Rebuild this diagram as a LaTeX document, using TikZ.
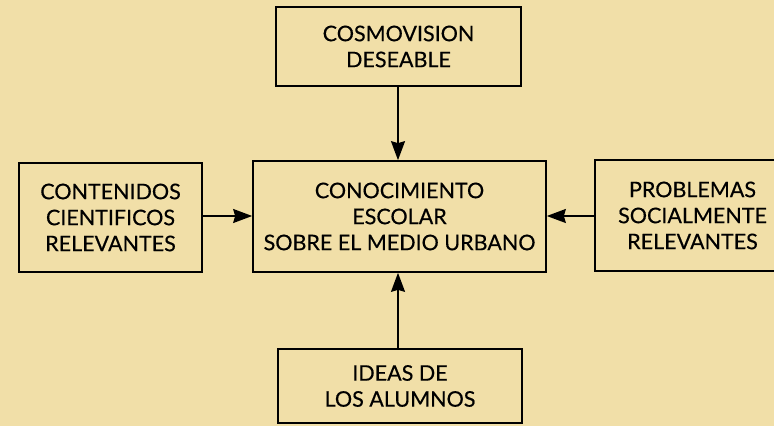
\documentclass[tikz,border=0pt]{standalone}
\usepackage{fontspec}
\setmainfont{Lato}[FakeBold=0.4]
\usetikzlibrary{arrows.meta}

\definecolor{papel}{RGB}{241,223,168}

\begin{document}
\begin{tikzpicture}[x=1pt,y=1pt,
    caja/.style={draw=black, line width=1.7pt, align=center, inner sep=0pt,
                 font=\fontsize{21.5}{26}\selectfont},
    flecha/.style={line width=1.6pt, -{Stealth[length=19pt,width=14pt,inset=2pt]}}]
\fill[papel] (0,0) rectangle (774,426);
\clip (0,0) rectangle (774,426);
% cajas
\node[caja, minimum width=245pt, minimum height=79pt] (cosmo) at (398.5,379.5) {COSMOVISION\\DESEABLE};
\node[caja, minimum width=293pt, minimum height=111pt] (conoc) at (399.5,209.5) {CONOCIMIENTO\\ESCOLAR\\SOBRE EL MEDIO URBANO};
\node[caja, minimum width=183pt, minimum height=109pt] (conten) at (110.5,208.5) {CONTENIDOS\\CIENTIFICOS\\RELEVANTES};
\node[caja, minimum width=195pt, minimum height=111pt, text width=175pt, align=center] (probl) at (692.5,210.5) {PROBLEMAS\\SOCIALMENTE\\RELEVANTES};
\node[caja, minimum width=244pt, minimum height=74pt] (ideas) at (400,40) {IDEAS DE\\LOS ALUMNOS};
% flechas
\draw[flecha] (cosmo.south -| 398,0) -- (conoc.north -| 398,0);
\draw[flecha] (ideas.north -| 398,0) -- (conoc.south -| 398,0);
\draw[flecha] (conten.east |- 0,210) -- (conoc.west |- 0,210);
\draw[flecha] (probl.west |- 0,210) -- (conoc.east |- 0,210);
\end{tikzpicture}
\end{document}
